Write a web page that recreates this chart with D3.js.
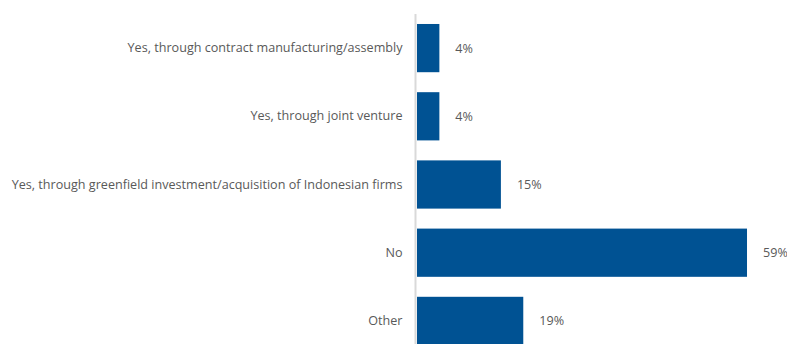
<!DOCTYPE html>
<html>
<head>
<meta charset="utf-8">
<script src="https://cdn.jsdelivr.net/npm/d3@7"></script>
<style>
  html, body { margin: 0; padding: 0; background: #ffffff; }
  svg { display: block; }
  text { font-family: "Open Sans", "Noto Sans", sans-serif; fill: #595959; }
</style>
</head>
<body>
<svg id="chart" width="787" height="344"></svg>
<script>
// Survey answers and their shares (%)
const categories = [
  "Yes, through contract manufacturing/assembly",
  "Yes, through joint venture",
  "Yes, through greenfield investment/acquisition of Indonesian firms",
  "No",
  "Other"
];
const shares = [4, 4, 15, 59, 19];
const valueLabels = ["4%", "4%", "15%", "59%", "19%"];

const svg = d3.select("#chart");
const x0 = 417;
const fontSize = "12.6px";

const x = d3.scaleLinear().domain([0, 60]).range([x0, x0 + 335.6]);
const y = d3.scaleBand().domain(categories).range([4, 365])
  .paddingInner(0.293).paddingOuter(0.293);

const rows = categories.map((c, i) => ({ cat: c, v: shares[i], label: valueLabels[i] }));

// bars
svg.append("g").selectAll("rect").data(rows).join("rect")
  .attr("x", x(0))
  .attr("y", d => y(d.cat))
  .attr("width", d => x(d.v) - x(0))
  .attr("height", y.bandwidth())
  .attr("fill", "#005293");

// category labels
const axis = d3.axisLeft(y).tickSize(0).tickPadding(13);
const gAxis = svg.append("g").attr("transform", `translate(${x0 - 1.5},0)`).call(axis);
gAxis.select(".domain").remove();
gAxis.selectAll("text")
  .style("font-family", '"Open Sans", "Noto Sans", sans-serif')
  .style("font-size", fontSize)
  .attr("fill", "#595959");

// vertical baseline
svg.append("line")
  .attr("x1", x0 - 1.5).attr("x2", x0 - 1.5)
  .attr("y1", 14).attr("y2", 344)
  .attr("stroke", "#d9d9d9").attr("stroke-width", 2);

// value labels
svg.append("g").selectAll("text").data(rows).join("text")
  .attr("x", d => x(d.v) + 16)
  .attr("y", d => y(d.cat) + y.bandwidth() / 2)
  .attr("dy", "0.35em")
  .style("font-size", fontSize)
  .text(d => d.label);
</script>
</body>
</html>
